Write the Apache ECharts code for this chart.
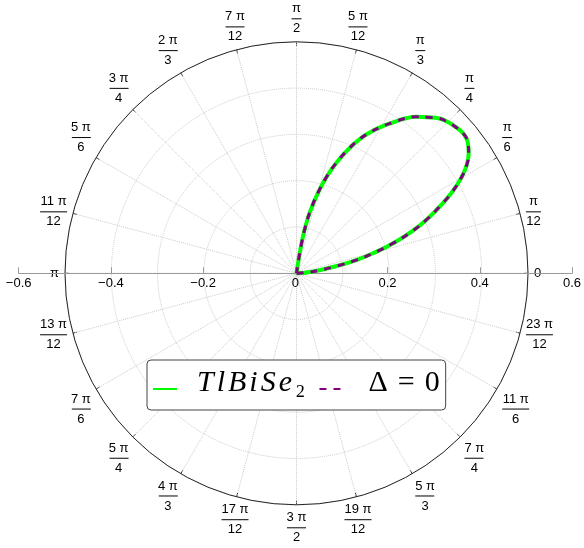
<!DOCTYPE html>
<html>
<head>
<meta charset="utf-8">
<script src="https://cdn.jsdelivr.net/npm/echarts@6/dist/echarts.min.js"></script>
<style>
  html, body { margin: 0; padding: 0; background: #fff; }
  #chart { width: 584px; height: 548px; }
</style>
</head>
<body>
<div id="chart"></div>
<script>
// lobe: polar angle (deg) and radius
var lobeAngles = [0, 3, 5, 7.5, 10, 12.5, 15, 17.5, 20, 22.5, 25, 27.5, 30, 32.5, 35, 37.5, 40, 42.5, 45,
  47.5, 50, 52.5, 55, 57.5, 60, 62.5, 65, 67.5, 70, 72.5, 75, 77.5, 79.3, 80.5, 81.2, 81.6];
var lobeRadii = [0, 0.009, 0.026, 0.048, 0.084, 0.132, 0.177, 0.222, 0.266, 0.305, 0.341, 0.378, 0.410, 0.436, 0.454, 0.466, 0.470, 0.467, 0.462,
  0.454, 0.440, 0.426, 0.408, 0.386, 0.365, 0.343, 0.318, 0.288, 0.256, 0.221, 0.181, 0.138, 0.100, 0.064, 0.030, 0];

var angleTickLabels = ['0', 'π/12', 'π/6', 'π/4', 'π/3', '5 π/12', 'π/2', '7 π/12', '2 π/3', '3 π/4', '5 π/6', '11 π/12',
  'π', '13 π/12', '7 π/6', '5 π/4', '4 π/3', '17 π/12', '3 π/2', '19 π/12', '5 π/3', '7 π/4', '11 π/6', '23 π/12'];
var xTickValues = [-0.6, -0.4, -0.2, 0, 0.2, 0.4, 0.6];
var xTickLabels = ['−0.6', '−0.4', '−0.2', '0', '0.2', '0.4', '0.6'];
var seriesNames = ['TlBiSe2', 'Delta0'];

var lobe = lobeAngles.map(function (a, i) { return [lobeRadii[i], a]; });

var cx = 296.5, cy = 273.3, R = 231.5; // R is radius 0.5
var pxPerUnit = R / 0.5;

function fracLabel(v) {
  var s = angleTickLabels[Math.round(v / 15)];
  if (s === undefined || v >= 359) return '';
  var parts = s.split('/');
  if (parts.length < 2) return '{n|' + s + '}';
  var w = Math.max(parts[0].length, parts[1].length);
  var bar = w <= 1 ? 'b1' : (w <= 2 ? 'b2' : (w <= 3 ? 'b3' : 'b4'));
  return '{n|' + parts[0] + '}\n{' + bar + '| }\n{n|' + parts[1] + '}';
}

var barStyle = function (w) {
  return { width: w, height: 1, lineHeight: 6, backgroundColor: '#000', fontSize: 1 };
};

// math-ish legend text, letters spaced like TeX italics
var italic = { fontSize: 30, fontStyle: 'italic', fontFamily: 'Liberation Serif', color: '#000', lineHeight: 24, padding: [0, 3, 0, 0] };
var upright = { fontSize: 30, fontFamily: 'Liberation Serif', color: '#000', lineHeight: 24 };

var chart = echarts.init(document.getElementById('chart'));
chart.setOption({
  animation: false,
  textStyle: { fontFamily: 'Liberation Sans' },
  polar: {
    center: [cx, cy],
    radius: [0, R]
  },
  angleAxis: {
    type: 'value',
    min: 0,
    max: 360,
    interval: 15,
    startAngle: 0,
    clockwise: false,
    axisLine: { lineStyle: { color: '#222', width: 1 } },
    axisTick: { show: true, inside: true, length: 4, lineStyle: { color: '#222' } },
    axisLabel: {
      margin: 6,
      formatter: fracLabel,
      rich: {
        n: { fontSize: 13, lineHeight: 14, color: '#000', fontFamily: 'Liberation Sans', align: 'center' },
        b1: barStyle(10),
        b2: barStyle(15),
        b3: barStyle(19),
        b4: barStyle(27)
      }
    },
    splitLine: { show: true, lineStyle: { color: '#c8c8c8', type: 'dotted', width: 1 } }
  },
  radiusAxis: {
    type: 'value',
    min: 0,
    max: 0.5,
    interval: 0.1,
    axisLine: { show: false },
    axisTick: { show: false },
    axisLabel: { show: false },
    splitLine: { show: true, lineStyle: { color: '#c8c8c8', type: 'dotted', width: 1 } }
  },
  grid: {
    left: cx - 0.6 * pxPerUnit,
    width: 1.2 * pxPerUnit,
    top: cy - 10,
    height: 10
  },
  xAxis: {
    type: 'value',
    min: -0.6,
    max: 0.6,
    interval: 0.2,
    position: 'bottom',
    axisLine: { lineStyle: { color: '#999' } },
    axisTick: { inside: true, length: 6, lineStyle: { color: '#999' } },
    splitLine: { show: false },
    axisLabel: {
      margin: 4,
      fontSize: 13,
      color: '#000',
      formatter: function (v) {
        for (var i = 0; i < xTickValues.length; i++) {
          if (Math.abs(xTickValues[i] - v) < 1e-6) return xTickLabels[i];
        }
        return '';
      }
    }
  },
  yAxis: { type: 'value', show: false, min: 0, max: 1 },
  legend: {
    left: 147,
    top: 360,
    backgroundColor: '#fff',
    borderColor: '#444',
    borderWidth: 1,
    borderRadius: 4,
    padding: [8.5, 6, 8.5, 5],
    itemWidth: 24,
    itemHeight: 14,
    itemGap: 13,
    itemStyle: { opacity: 0 },
    data: seriesNames,
    // second (empty) line pushes the text up so the icon sits near the baseline
    formatter: function (name) {
      if (name === seriesNames[0]) return '{pad|}{it|T}{it|l}{it|B}{it|i}{it|S}{it|e}{up|₂}\n{sp| }';
      return '{pad2|}{up|Δ}{gap|}{up|=}{gap|}{up|0}\n{sp| }';
    },
    textStyle: {
      rich: {
        pad: { width: 15, lineHeight: 24 },
        pad2: { width: 20, lineHeight: 24 },
        gap: { width: 10, lineHeight: 24 },
        sp: { fontSize: 1, lineHeight: 11 },
        it: italic,
        up: upright
      }
    }
  },
  series: [
    {
      name: seriesNames[0],
      type: 'line',
      coordinateSystem: 'polar',
      data: lobe,
      symbol: 'none',
      smooth: 0.5,
      lineStyle: { color: '#00ff00', width: 4 },
      itemStyle: { color: '#00ff00' },
      z: 3
    },
    {
      name: seriesNames[1],
      type: 'line',
      coordinateSystem: 'polar',
      data: lobe,
      symbol: 'none',
      smooth: 0.5,
      lineStyle: { color: '#800080', width: 3, type: [7, 7] },
      itemStyle: { color: '#800080' },
      z: 4
    }
  ]
});
</script>
</body>
</html>
